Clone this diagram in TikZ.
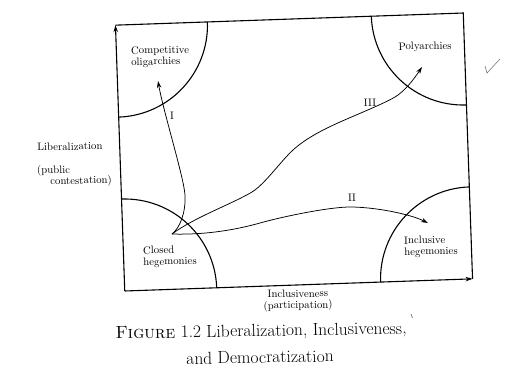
\documentclass[tikz,border=0pt]{standalone}
\usepackage{fontspec}
\usetikzlibrary{arrows.meta}
\begin{document}
\begin{tikzpicture}[x=1pt,y=-1pt,
  frame/.style={line width=1.1pt},
  axisarrow/.style={frame,-{Stealth[length=7pt,width=4.5pt]}},
  route/.style={line width=0.75pt,-{Stealth[length=7pt,width=4.5pt]}},
  lab/.style={font=\fontsize{10.8}{11.2}\selectfont, inner sep=0pt, rotate=1},
  captext/.style={font=\fontsize{17.5}{19}\selectfont, inner sep=0pt, rotate=1},
  pen/.style={line width=0.5pt, black!60}]
\useasboundingbox (0,0) rectangle (532,368);
% frame, slightly rotated like the scan
\begin{scope}[shift={(294,152)}, rotate=2]
  \coordinate (TL) at (-174,-133);
  \coordinate (TR) at (174,-133);
  \coordinate (BR) at (174,133);
  \coordinate (BL) at (-174,133);
  \begin{scope}
    \clip (TL) -- (TR) -- (BR) -- (BL) -- cycle;
    \foreach \c in {TL,TR,BR,BL} \draw[frame] (\c) circle[radius=92pt];
  \end{scope}
  \draw[frame] (TL) -- (TR) -- (BR);
  \draw[axisarrow] (BL) -- (TL);
  \draw[axisarrow] (BL) -- (BR);
\end{scope}
% region labels
\node[lab, anchor=west, align=left] (co) at (131,57) {Competitive\\oligarchies};
\node[lab] (po) at (425,47) {Polyarchies};
\node[lab, anchor=west, align=left] (ch) at (143,257) {Closed\\hegemonies};
\node[lab, anchor=west, align=left] (ih) at (404,247) {Inclusive\\hegemonies};
% paths
\coordinate (O) at (172,234);
\coordinate (T1) at (158,81);
\coordinate (T2) at (428,223);
\coordinate (T3) at (422,67);
\draw[route] (O) .. controls (180,228) and (186,212) .. (185,195)
  .. controls (184,178) and (163,110) .. (T1);
\draw[route] (O) .. controls (195,217) and (232,204) .. (252,192)
  .. controls (265,184) and (280,162) .. (293,150)
  .. controls (305,139) and (322,130) .. (340,122)
  .. controls (358,114) and (383,104) .. (395,97)
  .. controls (405,91) and (414,79) .. (T3);
\draw[route] (O) .. controls (205,235) and (235,230) .. (260,223)
  .. controls (285,216) and (330,207) .. (350,207)
  .. controls (375,207) and (410,214) .. (T2);
\node[lab] (l1) at (172,116) {I};
\node[lab] (l3) at (370,103) {III};
\node[lab] (l2) at (352,198) {II};
% axis labels
\node[lab, anchor=west] (lib) at (37,147) {Liberalization};
\node[lab, anchor=west, align=left] (pub) at (37,176.5) {(public\\\hspace*{13pt}contestation)};
\node[lab, align=center] (inc) at (298,300.5) {Inclusiveness\\(participation)};
% caption
\node[captext] (cap1) at (261,332) {\textsc{Figure} 1.2 Liberalization, Inclusiveness,};
\node[captext] (cap2) at (260,357) {and Democratization};
% pen marks
\draw[pen] (485,66) -- (487,73) -- (500,59);
\draw[pen, line width=0.6pt] (411,314) -- (412.5,318);
\end{tikzpicture}
\end{document}
